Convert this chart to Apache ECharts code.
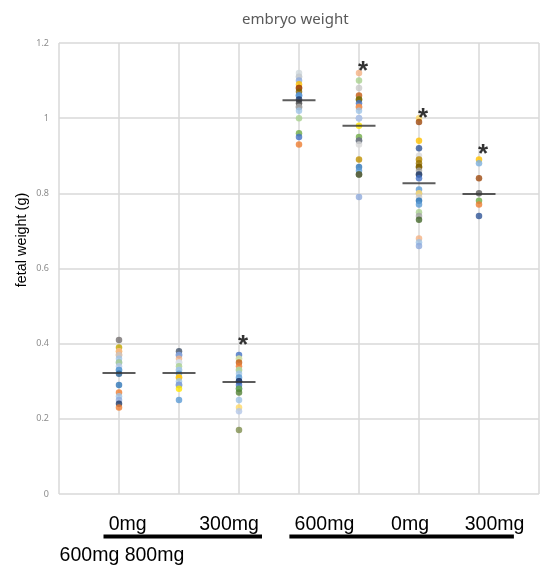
<!DOCTYPE html>
<html><head><meta charset="utf-8">
<script src="https://cdn.jsdelivr.net/npm/echarts@6/dist/echarts.min.js"></script>
<style>html,body{margin:0;padding:0;background:#fff}#c{width:550px;height:568px}</style>
</head><body><div id="c"></div>
<script>
// ---- data ----
const groupX = [1, 2, 3, 4, 5, 6, 7];
const g1 = [0.41,0.39,0.38,0.38,0.37,0.37,0.36,0.35,0.35,0.34,0.33,0.33,0.32,0.29,0.27,0.26,0.25,0.24,0.23];
const g2 = [0.38,0.37,0.37,0.36,0.35,0.35,0.34,0.33,0.33,0.32,0.31,0.31,0.30,0.29,0.29,0.28,0.25];
const g3 = [0.37,0.36,0.36,0.35,0.34,0.33,0.33,0.32,0.31,0.30,0.30,0.29,0.28,0.28,0.27,0.25,0.23,0.22,0.17];
const g4 = [1.12,1.11,1.11,1.10,1.09,1.08,1.08,1.07,1.06,1.06,1.05,1.04,1.03,1.03,1.02,1.00,0.96,0.95,0.93];
const g5 = [1.12,1.10,1.08,1.06,1.05,1.05,1.04,1.03,1.03,1.02,1.00,1.00,0.98,0.95,0.94,0.94,0.93,0.89,0.87,0.86,0.85,0.85,0.79];
const g6 = [1.00,0.99,0.94,0.92,0.90,0.89,0.89,0.88,0.87,0.87,0.86,0.85,0.85,0.84,0.81,0.80,0.80,0.79,0.78,0.78,0.77,0.75,0.74,0.73,0.68,0.67,0.66];
const g7 = [0.89,0.88,0.84,0.80,0.78,0.77,0.74];
const means = [0.322, 0.322, 0.298, 1.048, 0.980, 0.827, 0.798];
const starX = [3, 5, 6, 7];
const starY = [0.414, 1.142, 1.017, 0.921];
const bottomLabels = ['0mg', '300mg', '600mg', '0mg', '300mg'];
const bottomLine2 = '600mg 800mg';
const titleText = 'embryo weight';
const yName = 'fetal weight (g)';

// ---- styles ----
const c1 = ['#767171','#BFA500','#FFD966','#F4B183','#F1975A','#C9C9C9','#9DC3E6','#8FAADC','#A9D18E','#B4C7E7','#7CAFDD','#5B9BD5','#255E91','#2E75B6','#ED7D31','#9DC3E6','#8FAADC','#203864','#ED7D31'];
const c2 = ['#44546A','#4472C4','#8FAADC','#F4B183','#C9C9C9','#DAE3F3','#A9D18E','#BDD7EE','#9DC3E6','#5B9BD5','#FFD966','#FFC000','#9DC3E6','#4472C4','#8FAADC','#FFE600','#5B9BD5'];
const c3 = ['#4472C4','#FFD966','#C5E0B4','#C55A11','#ED7D31','#D9D9D9','#A9D18E','#9DC3E6','#5B9BD5','#2F5597','#203864','#4472C4','#2E75B6','#70AD47','#548235','#9DC3E6','#FFD966','#B4C7E7','#7F8F4F'];
const c4 = ['#D0D8DC','#BDD7EE','#C9C9C9','#8FAADC','#FFC000','#C55A11','#9E480E','#806000','#4472C4','#5B9BD5','#203864','#404040','#7F7F7F','#A5A5A5','#9DC3E6','#A9D18E','#70AD47','#4472C4','#ED7D31'];
const c5 = ['#F4B183','#A9D18E','#C9C9C9','#C55A11','#70AD47','#806000','#4472C4','#ED7D31','#F1975A','#9DC3E6','#8FAADC','#B4C7E7','#FFE600','#70AD47','#2F5597','#7F7F7F','#D9D9D9','#BF9000','#2E75B6','#5B9BD5','#548235','#595940','#8FAADC'];
const c6 = ['#FFD966','#9E480E','#FFC000','#2F5597','#D9D9D9','#C9C9C9','#BF9000','#997300','#806000','#7F6000','#A5A5A5','#8497B0','#203864','#4472C4','#5B9BD5','#8FAADC','#FFD966','#C9C9C9','#9DC3E6','#2E75B6','#5B9BD5','#A9D18E','#A5A5A5','#43682B','#F4B183','#9DC3E6','#8FAADC'];
const c7 = ['#FFC000','#7CAFDD','#9E480E','#595959','#70AD47','#ED7D31','#2F5597'];

const groups = [g1, g2, g3, g4, g5, g6, g7];
const colors = [c1, c2, c3, c4, c5, c6, c7];

const dotSeries = groups.map((g, gi) => ({
  type: 'scatter',
  symbolSize: 6.5,
  z: 2,
  data: g.map((v, i) => ({ value: [groupX[gi], v], itemStyle: { color: colors[gi][i % colors[gi].length], opacity: 0.8 } }))
}));

const meanSeries = {
  type: 'scatter', symbol: 'rect', symbolSize: [33, 2], z: 3,
  itemStyle: { color: '#333333' },
  data: means.map((m, i) => [groupX[i], m])
};

const starSeries = {
  type: 'scatter', symbolSize: 0, z: 4,
  label: { show: true, formatter: '*', position: 'inside', offset: [4, 7], fontSize: 26, fontWeight: 'bold', color: '#000', fontFamily: 'Liberation Sans' },
  data: starX.map((x, i) => [x, starY[i]])
};

const lblLeft = [108.7, 199.2, 294.6, 391.1, 464.7];
const graphics = [];
bottomLabels.forEach((t, i) => graphics.push({
  type: 'text', x: lblLeft[i], y: 525,
  style: { text: t, font: '19.5px "Liberation Sans"', fill: '#000', textAlign: 'left', textVerticalAlign: 'middle' }
}));
graphics.push({ type: 'text', x: 59.6, y: 556, style: { text: bottomLine2, font: '19.5px "Liberation Sans"', fill: '#000', textAlign: 'left', textVerticalAlign: 'middle' } });
graphics.push({ type: 'rect', shape: { x: 103.5, y: 534.5, width: 158.5, height: 4 }, style: { fill: '#000' } });
graphics.push({ type: 'rect', shape: { x: 289.4, y: 534.5, width: 224.5, height: 4 }, style: { fill: '#000' } });
graphics.push({ type: 'text', x: 22, y: 240, rotation: Math.PI / 2,
  style: { text: yName, font: '14.4px "Liberation Sans"', fill: '#000', textAlign: 'center', textVerticalAlign: 'middle' } });

const chart = echarts.init(document.getElementById('c'), null, { renderer: 'canvas' });
chart.setOption({
  animation: false,
  backgroundColor: '#fff',
  title: { text: titleText, left: 237, top: 7, textStyle: { fontSize: 15, fontWeight: 'normal', color: '#595959', fontFamily: 'Noto Sans' } },
  grid: { left: 59, right: 11, top: 43, bottom: 74 },
  xAxis: {
    type: 'value', min: 0, max: 8, interval: 1,
    axisLine: { show: false }, axisTick: { show: false }, axisLabel: { show: false },
    splitLine: { show: true, lineStyle: { color: '#d9d9d9', width: 1.5 } }
  },
  yAxis: {
    type: 'value', min: 0, max: 1.2, interval: 0.2,
    axisLine: { show: false }, axisTick: { show: false },
    axisLabel: { fontSize: 9, color: '#8c8c8c', margin: 10, fontFamily: 'Noto Sans' },
    splitLine: { show: true, lineStyle: { color: '#d9d9d9', width: 1.5 } }
  },
  series: [...dotSeries, meanSeries, starSeries],
  graphic: graphics
});
</script>
</body></html>
